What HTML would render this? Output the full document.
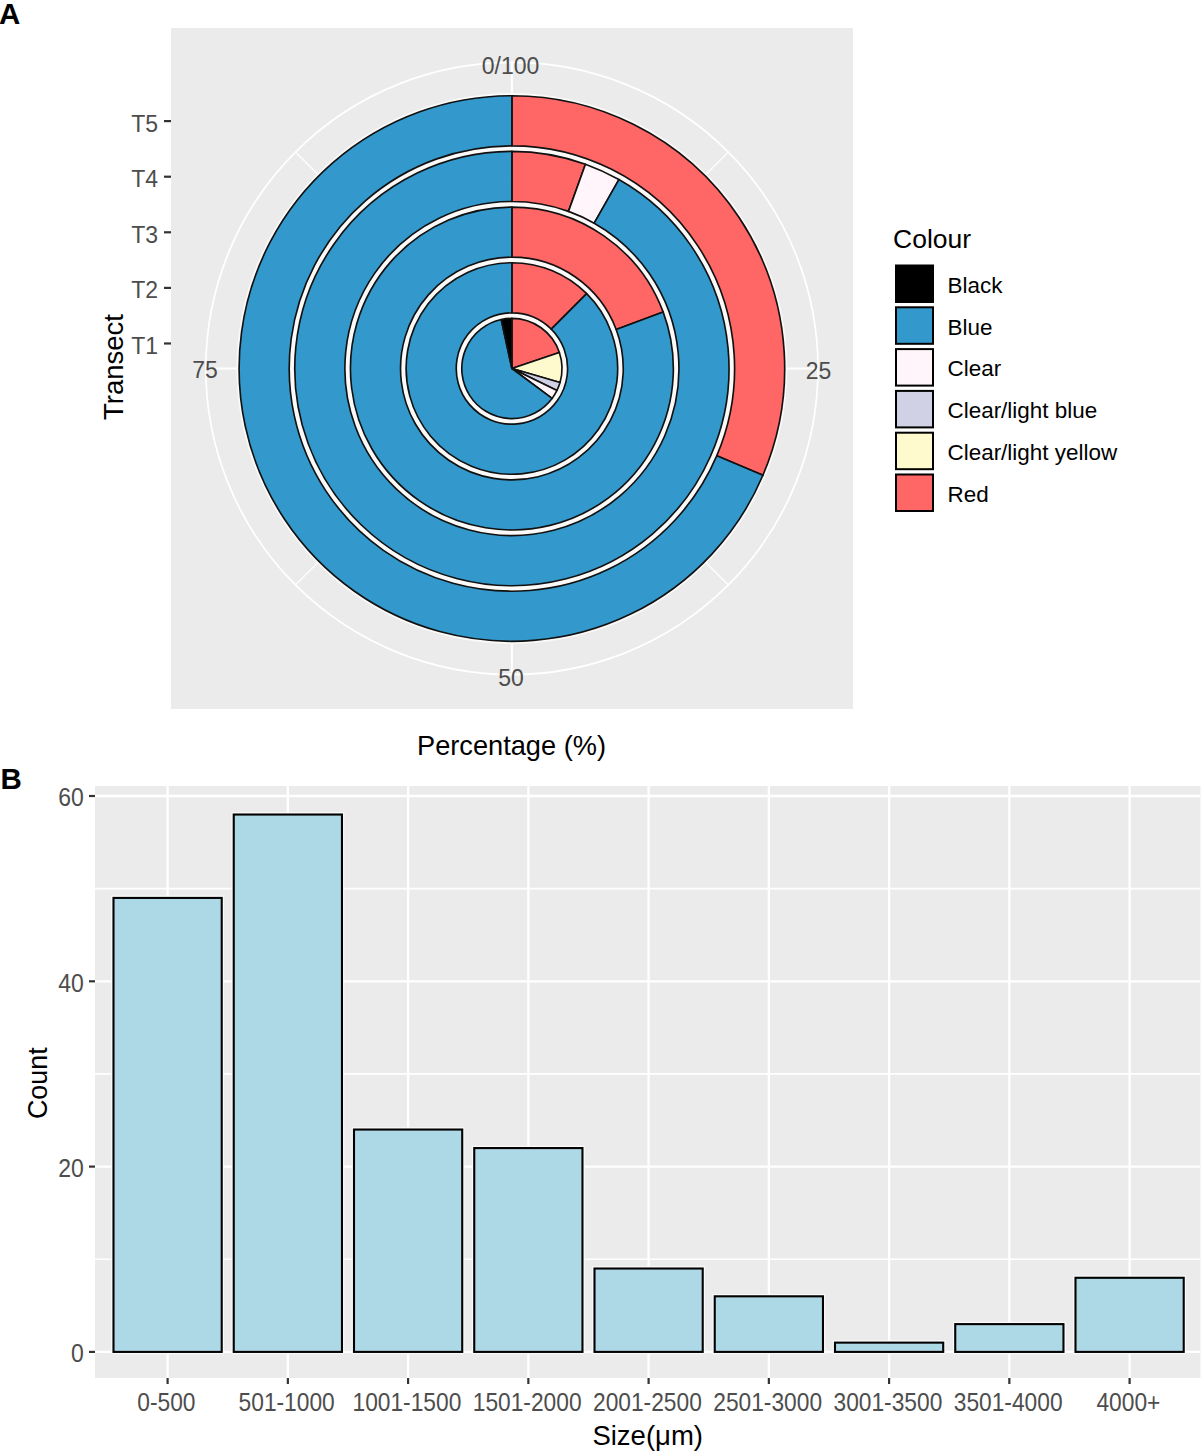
<!DOCTYPE html>
<html><head><meta charset="utf-8"><title>Figure</title>
<style>
html,body{margin:0;padding:0;background:#fff;}
body{width:1203px;height:1454px;overflow:hidden;}
svg{display:block;font-family:"Liberation Sans",sans-serif;}
</style></head>
<body>
<svg width="1203" height="1454" viewBox="0 0 1203 1454">
<rect x="171" y="28" width="682" height="681" fill="#EBEBEB"/>
<line x1="511.9" y1="368.5" x2="511.90" y2="62.40" stroke="#fff" stroke-width="2.0"/>
<line x1="511.9" y1="368.5" x2="818.00" y2="368.50" stroke="#fff" stroke-width="2.0"/>
<line x1="511.9" y1="368.5" x2="511.90" y2="674.60" stroke="#fff" stroke-width="2.0"/>
<line x1="511.9" y1="368.5" x2="205.80" y2="368.50" stroke="#fff" stroke-width="2.0"/>
<line x1="511.9" y1="368.5" x2="728.35" y2="152.05" stroke="#fff" stroke-width="1.3"/>
<line x1="511.9" y1="368.5" x2="728.35" y2="584.95" stroke="#fff" stroke-width="1.3"/>
<line x1="511.9" y1="368.5" x2="295.45" y2="584.95" stroke="#fff" stroke-width="1.3"/>
<line x1="511.9" y1="368.5" x2="295.45" y2="152.05" stroke="#fff" stroke-width="1.3"/>
<circle cx="511.9" cy="368.5" r="306.1" fill="none" stroke="#fff" stroke-width="1.7"/>
<circle cx="511.9" cy="368.5" r="275.40" fill="#FBFAF8"/>
<g stroke="#111" stroke-width="1.65" stroke-linejoin="round"><path d="M511.90,368.50L511.90,318.39A50.11,50.11 0 0 1 559.36,352.42Z" fill="#FF6666"/><path d="M511.90,368.50L559.36,352.42A50.11,50.11 0 0 1 560.02,382.48Z" fill="#FFFACD"/><path d="M511.90,368.50L560.02,382.48A50.11,50.11 0 0 1 556.97,390.40Z" fill="#D1D1E6"/><path d="M511.90,368.50L556.97,390.40A50.11,50.11 0 0 1 552.06,398.46Z" fill="#FFF5FA"/><path d="M511.90,368.50L552.06,398.46A50.11,50.11 0 1 1 501.28,319.53Z" fill="#3399CC"/><path d="M511.90,368.50L501.28,319.53A50.11,50.11 0 0 1 511.90,318.39Z" fill="#000000"/><path d="M511.90,262.72A105.78,105.78 0 0 1 586.70,293.70L551.27,329.13A55.67,55.67 0 0 0 511.90,312.83Z" fill="#FF6666"/><path d="M586.70,293.70A105.78,105.78 0 1 1 511.90,262.72L511.90,312.83A55.67,55.67 0 1 0 551.27,329.13Z" fill="#3399CC"/><path d="M511.90,207.05A161.45,161.45 0 0 1 663.11,311.91L616.18,329.47A111.35,111.35 0 0 0 511.90,257.15Z" fill="#FF6666"/><path d="M663.11,311.91A161.45,161.45 0 1 1 511.90,207.05L511.90,257.15A111.35,111.35 0 1 0 616.18,329.47Z" fill="#3399CC"/><path d="M511.90,151.37A217.13,217.13 0 0 1 585.45,164.21L568.48,211.35A167.02,167.02 0 0 0 511.90,201.48Z" fill="#FF6666"/><path d="M585.45,164.21A217.13,217.13 0 0 1 618.88,179.56L594.20,223.16A167.02,167.02 0 0 0 568.48,211.35Z" fill="#FFF5FA"/><path d="M618.88,179.56A217.13,217.13 0 1 1 511.90,151.37L511.90,201.48A167.02,167.02 0 1 0 594.20,223.16Z" fill="#3399CC"/><path d="M511.90,95.70A272.80,272.80 0 0 1 762.94,475.27L716.83,455.66A222.69,222.69 0 0 0 511.90,145.81Z" fill="#FF6666"/><path d="M762.94,475.27A272.80,272.80 0 1 1 511.90,95.70L511.90,145.81A222.69,222.69 0 1 0 716.83,455.66Z" fill="#3399CC"/></g>
<text x="510.5" y="74.3" font-size="23" fill="#4D4D4D" text-anchor="middle">0/100</text>
<text x="818.6" y="378.6" font-size="23" fill="#4D4D4D" text-anchor="middle">25</text>
<text x="511" y="685.8" font-size="23" fill="#4D4D4D" text-anchor="middle">50</text>
<text x="205.1" y="378.2" font-size="23" fill="#4D4D4D" text-anchor="middle">75</text>
<line x1="164" y1="343.48" x2="171" y2="343.48" stroke="#333" stroke-width="2.2"/>
<text x="158" y="354.08" font-size="23" fill="#4D4D4D" text-anchor="end">T1</text>
<line x1="164" y1="287.89" x2="171" y2="287.89" stroke="#333" stroke-width="2.2"/>
<text x="158" y="298.49" font-size="23" fill="#4D4D4D" text-anchor="end">T2</text>
<line x1="164" y1="232.30" x2="171" y2="232.30" stroke="#333" stroke-width="2.2"/>
<text x="158" y="242.90" font-size="23" fill="#4D4D4D" text-anchor="end">T3</text>
<line x1="164" y1="176.71" x2="171" y2="176.71" stroke="#333" stroke-width="2.2"/>
<text x="158" y="187.31" font-size="23" fill="#4D4D4D" text-anchor="end">T4</text>
<line x1="164" y1="121.12" x2="171" y2="121.12" stroke="#333" stroke-width="2.2"/>
<text x="158" y="131.72" font-size="23" fill="#4D4D4D" text-anchor="end">T5</text>
<text transform="translate(122.5,367) rotate(-90)" font-size="27.5" fill="#000" text-anchor="middle">Transect</text>
<text x="511.5" y="754.8" font-size="27.2" fill="#000" text-anchor="middle">Percentage (%)</text>
<text x="893" y="248" font-size="26.5" fill="#000">Colour</text>
<rect x="896" y="265.50" width="37" height="36.5" fill="#000000" stroke="#000" stroke-width="2"/>
<text x="947.5" y="292.80" font-size="22.45" fill="#000">Black</text>
<rect x="896" y="307.30" width="37" height="36.5" fill="#3399CC" stroke="#000" stroke-width="2"/>
<text x="947.5" y="334.60" font-size="22.45" fill="#000">Blue</text>
<rect x="896" y="349.10" width="37" height="36.5" fill="#FFF5FA" stroke="#000" stroke-width="2"/>
<text x="947.5" y="376.40" font-size="22.45" fill="#000">Clear</text>
<rect x="896" y="390.90" width="37" height="36.5" fill="#D1D1E6" stroke="#000" stroke-width="2"/>
<text x="947.5" y="418.20" font-size="22.45" fill="#000">Clear/light blue</text>
<rect x="896" y="432.70" width="37" height="36.5" fill="#FFFACD" stroke="#000" stroke-width="2"/>
<text x="947.5" y="460.00" font-size="22.45" fill="#000">Clear/light yellow</text>
<rect x="896" y="474.50" width="37" height="36.5" fill="#FF6666" stroke="#000" stroke-width="2"/>
<text x="947.5" y="501.80" font-size="22.45" fill="#000">Red</text>
<text x="-1" y="24.2" font-size="29.5" font-weight="bold" fill="#000">A</text>
<rect x="95" y="786" width="1105.5" height="592" fill="#EBEBEB"/>
<line x1="95" y1="1259.25" x2="1200.5" y2="1259.25" stroke="#fff" stroke-width="1.7"/>
<line x1="95" y1="1073.95" x2="1200.5" y2="1073.95" stroke="#fff" stroke-width="1.7"/>
<line x1="95" y1="888.65" x2="1200.5" y2="888.65" stroke="#fff" stroke-width="1.7"/>
<line x1="95" y1="1351.90" x2="1200.5" y2="1351.90" stroke="#fff" stroke-width="2.3"/>
<line x1="95" y1="1166.60" x2="1200.5" y2="1166.60" stroke="#fff" stroke-width="2.3"/>
<line x1="95" y1="981.30" x2="1200.5" y2="981.30" stroke="#fff" stroke-width="2.3"/>
<line x1="95" y1="796.00" x2="1200.5" y2="796.00" stroke="#fff" stroke-width="2.3"/>
<line x1="167.60" y1="786" x2="167.60" y2="1378" stroke="#fff" stroke-width="2.3"/>
<line x1="287.85" y1="786" x2="287.85" y2="1378" stroke="#fff" stroke-width="2.3"/>
<line x1="408.10" y1="786" x2="408.10" y2="1378" stroke="#fff" stroke-width="2.3"/>
<line x1="528.35" y1="786" x2="528.35" y2="1378" stroke="#fff" stroke-width="2.3"/>
<line x1="648.60" y1="786" x2="648.60" y2="1378" stroke="#fff" stroke-width="2.3"/>
<line x1="768.85" y1="786" x2="768.85" y2="1378" stroke="#fff" stroke-width="2.3"/>
<line x1="889.10" y1="786" x2="889.10" y2="1378" stroke="#fff" stroke-width="2.3"/>
<line x1="1009.35" y1="786" x2="1009.35" y2="1378" stroke="#fff" stroke-width="2.3"/>
<line x1="1129.60" y1="786" x2="1129.60" y2="1378" stroke="#fff" stroke-width="2.3"/>
<g stroke="#FAFAFA" stroke-width="4.6"><rect x="113.49" y="897.92" width="108.23" height="453.99" fill="#ADD8E6"/><rect x="233.74" y="814.53" width="108.23" height="537.37" fill="#ADD8E6"/><rect x="353.99" y="1129.54" width="108.23" height="222.36" fill="#ADD8E6"/><rect x="474.24" y="1148.07" width="108.23" height="203.83" fill="#ADD8E6"/><rect x="594.49" y="1268.52" width="108.23" height="83.38" fill="#ADD8E6"/><rect x="714.74" y="1296.31" width="108.23" height="55.59" fill="#ADD8E6"/><rect x="834.99" y="1342.63" width="108.23" height="9.27" fill="#ADD8E6"/><rect x="955.24" y="1324.11" width="108.23" height="27.80" fill="#ADD8E6"/><rect x="1075.49" y="1277.78" width="108.23" height="74.12" fill="#ADD8E6"/></g>
<g stroke="#000" stroke-width="2.1"><rect x="113.49" y="897.92" width="108.23" height="453.99" fill="#ADD8E6"/><rect x="233.74" y="814.53" width="108.23" height="537.37" fill="#ADD8E6"/><rect x="353.99" y="1129.54" width="108.23" height="222.36" fill="#ADD8E6"/><rect x="474.24" y="1148.07" width="108.23" height="203.83" fill="#ADD8E6"/><rect x="594.49" y="1268.52" width="108.23" height="83.38" fill="#ADD8E6"/><rect x="714.74" y="1296.31" width="108.23" height="55.59" fill="#ADD8E6"/><rect x="834.99" y="1342.63" width="108.23" height="9.27" fill="#ADD8E6"/><rect x="955.24" y="1324.11" width="108.23" height="27.80" fill="#ADD8E6"/><rect x="1075.49" y="1277.78" width="108.23" height="74.12" fill="#ADD8E6"/></g>
<line x1="89" y1="1351.90" x2="95" y2="1351.90" stroke="#333" stroke-width="2.2"/>
<text transform="translate(83.8,1362.20) scale(1,1.09)" font-size="23" fill="#4D4D4D" text-anchor="end">0</text>
<line x1="89" y1="1166.60" x2="95" y2="1166.60" stroke="#333" stroke-width="2.2"/>
<text transform="translate(83.8,1176.90) scale(1,1.09)" font-size="23" fill="#4D4D4D" text-anchor="end">20</text>
<line x1="89" y1="981.30" x2="95" y2="981.30" stroke="#333" stroke-width="2.2"/>
<text transform="translate(83.8,991.60) scale(1,1.09)" font-size="23" fill="#4D4D4D" text-anchor="end">40</text>
<line x1="89" y1="796.00" x2="95" y2="796.00" stroke="#333" stroke-width="2.2"/>
<text transform="translate(83.8,806.30) scale(1,1.09)" font-size="23" fill="#4D4D4D" text-anchor="end">60</text>
<line x1="167.60" y1="1378" x2="167.60" y2="1384" stroke="#333" stroke-width="2.2"/>
<text transform="translate(166.40,1410.7) scale(0.99,1.09)" font-size="23" fill="#4D4D4D" text-anchor="middle">0-500</text>
<line x1="287.85" y1="1378" x2="287.85" y2="1384" stroke="#333" stroke-width="2.2"/>
<text transform="translate(286.65,1410.7) scale(0.99,1.09)" font-size="23" fill="#4D4D4D" text-anchor="middle">501-1000</text>
<line x1="408.10" y1="1378" x2="408.10" y2="1384" stroke="#333" stroke-width="2.2"/>
<text transform="translate(406.90,1410.7) scale(0.99,1.09)" font-size="23" fill="#4D4D4D" text-anchor="middle">1001-1500</text>
<line x1="528.35" y1="1378" x2="528.35" y2="1384" stroke="#333" stroke-width="2.2"/>
<text transform="translate(527.15,1410.7) scale(0.99,1.09)" font-size="23" fill="#4D4D4D" text-anchor="middle">1501-2000</text>
<line x1="648.60" y1="1378" x2="648.60" y2="1384" stroke="#333" stroke-width="2.2"/>
<text transform="translate(647.40,1410.7) scale(0.99,1.09)" font-size="23" fill="#4D4D4D" text-anchor="middle">2001-2500</text>
<line x1="768.85" y1="1378" x2="768.85" y2="1384" stroke="#333" stroke-width="2.2"/>
<text transform="translate(767.65,1410.7) scale(0.99,1.09)" font-size="23" fill="#4D4D4D" text-anchor="middle">2501-3000</text>
<line x1="889.10" y1="1378" x2="889.10" y2="1384" stroke="#333" stroke-width="2.2"/>
<text transform="translate(887.90,1410.7) scale(0.99,1.09)" font-size="23" fill="#4D4D4D" text-anchor="middle">3001-3500</text>
<line x1="1009.35" y1="1378" x2="1009.35" y2="1384" stroke="#333" stroke-width="2.2"/>
<text transform="translate(1008.15,1410.7) scale(0.99,1.09)" font-size="23" fill="#4D4D4D" text-anchor="middle">3501-4000</text>
<line x1="1129.60" y1="1378" x2="1129.60" y2="1384" stroke="#333" stroke-width="2.2"/>
<text transform="translate(1128.40,1410.7) scale(0.99,1.09)" font-size="23" fill="#4D4D4D" text-anchor="middle">4000+</text>
<text x="647.7" y="1444.9" font-size="27.5" fill="#000" text-anchor="middle">Size(μm)</text>
<text transform="translate(47.2,1083.2) rotate(-90)" font-size="26.9" fill="#000" text-anchor="middle">Count</text>
<text x="0.5" y="789.2" font-size="29.5" font-weight="bold" fill="#000">B</text>
</svg>
</body></html>
